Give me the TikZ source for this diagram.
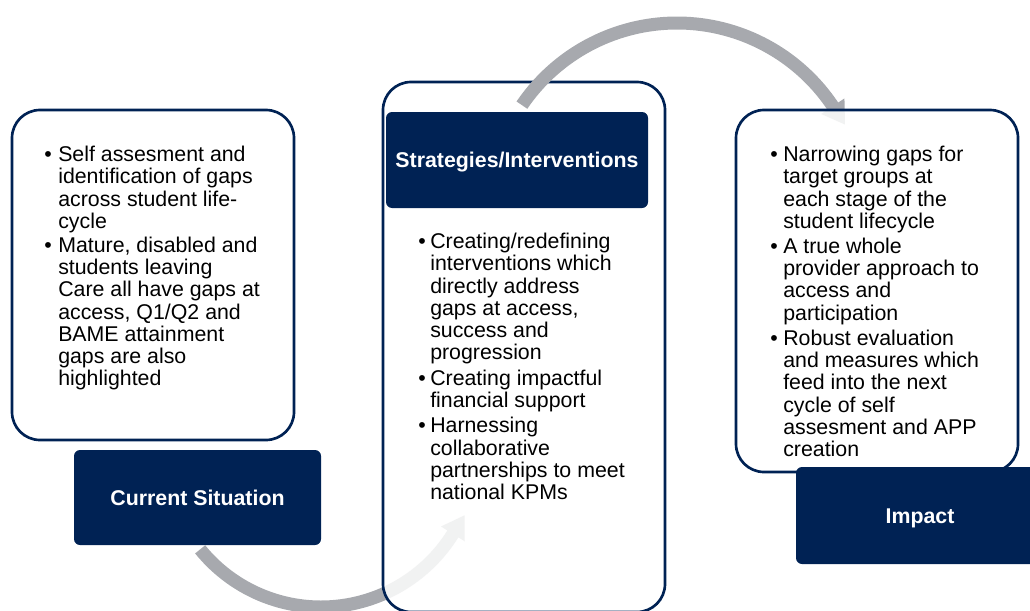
\documentclass[tikz,border=0pt]{standalone}
\usepackage{fontspec}
\setmainfont{Liberation Sans}
\usepackage{tikz}
\definecolor{navyblue}{RGB}{0,34,84}
\definecolor{arcgray}{RGB}{167,169,174}
\newcommand{\bul}[1]{\makebox[#1][l]{\textbullet}}
\newcommand{\ind}[1]{\hspace*{#1}}

\begin{document}
\begin{tikzpicture}[x=0.75pt,y=0.75pt,yscale=-1,xscale=1,
    infobox/.style={draw=navyblue, line width=2pt, rounded corners=21pt, fill=white},
    titlebox/.style={fill=navyblue, rounded corners=4.5pt},
    titletext/.style={text=white, font=\fontsize{16}{19}\selectfont\bfseries, inner sep=0.75pt},
    bodytext/.style={anchor=north west, align=left, inner sep=0pt, font=\fontsize{16}{16.65}\selectfont},
    cyclearc/.style={fill=arcgray}]
    \useasboundingbox (0,0) rectangle (1030,610);
    
    %Curved Arrow [bottom, under box2]
    \fill[cyclearc, shift={(321,451.5)}] (141:162) arc[start angle=141, end angle=32, radius=162] -- (32:169.5) -- (23.95:157.1) -- (32:141.5) -- (32:149) arc[start angle=32, end angle=141, radius=149] -- cycle;
    
    %Rounded Rect [box1]
    \draw[infobox] (12,110) rectangle (294,440);
    %Title Rect [box1]
    \fill[titlebox] (74,450) rectangle (321,545);
    
    %Rounded Rect [box2]
    \draw[infobox, fill opacity=0.85] (383,82) rectangle (665,612);
    %Title Rect [box2]
    \fill[titlebox] (386,112) rectangle (648,208);
    
    %Curved Arrow [top, under box3]
    \fill[cyclearc, shift={(677,210.5)}] (-145.8:194) arc[start angle=-145.8, end angle=-33.8, radius=194] -- (-33.8:201.5) -- (-27.1:188.7) -- (-33.8:173.5) -- (-33.8:181) arc[start angle=-33.8, end angle=-145.8, radius=181] -- cycle;
    
    %Rounded Rect [box3]
    \draw[infobox, fill opacity=0.85] (736,110) rectangle (1018,472);
    %Title Rect [box3]
    \fill[titlebox] (796,467) rectangle (1044,564);
    
    % Text Node
    \node[titletext] (cstitle) at (197.5,497.5) {Current Situation};
    % Text Node
    \node[titletext] (sititle) at (517,162) {Strategies/Interventions};
    % Text Node
    \node[titletext] (imtitle) at (920,518.5) {Impact};
    
    % Text Node
    \node[bodytext] (cstext) at (44,146) {\bul{10.5pt}Self assesment and\\
        \ind{10.5pt}identification of gaps\\
        \ind{10.5pt}across student life-\\
        \ind{10.5pt}cycle\\[1.5pt]
        \bul{10.5pt}Mature, disabled and\\
        \ind{10.5pt}students leaving\\
        \ind{10.5pt}Care all have gaps at\\
        \ind{10.5pt}access, Q1/Q2 and\\
        \ind{10.5pt}BAME attainment\\
        \ind{10.5pt}gaps are also\\
        \ind{10.5pt}highlighted};
    % Text Node
    \node[bodytext] (sitext) at (418,233) {\bul{9pt}Creating/redefining\\
        \ind{9pt}interventions which\\
        \ind{9pt}directly address\\
        \ind{9pt}gaps at access,\\
        \ind{9pt}success and\\
        \ind{9pt}progression\\[2.5pt]
        \bul{9pt}Creating impactful\\
        \ind{9pt}financial support\\[2.5pt]
        \bul{9pt}Harnessing\\
        \ind{9pt}collaborative\\
        \ind{9pt}partnerships to meet\\
        \ind{9pt}national KPMs};
    % Text Node
    \node[bodytext] (imtext) at (770,146) {\bul{9.75pt}Narrowing gaps for\\
        \ind{9.75pt}target groups at\\
        \ind{9.75pt}each stage of the\\
        \ind{9.75pt}student lifecycle\\[2.2pt]
        \bul{9.75pt}A true whole\\
        \ind{9.75pt}provider approach to\\
        \ind{9.75pt}access and\\
        \ind{9.75pt}participation\\[2.5pt]
        \bul{9.75pt}Robust evaluation\\
        \ind{9.75pt}and measures which\\
        \ind{9.75pt}feed into the next\\
        \ind{9.75pt}cycle of self\\
        \ind{9.75pt}assesment and APP\\
        \ind{9.75pt}creation};
    
\end{tikzpicture}
\end{document}
